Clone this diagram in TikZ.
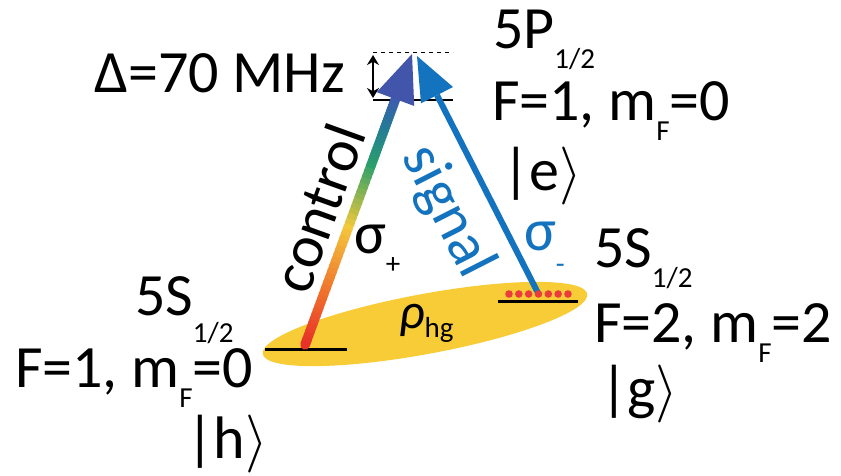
\documentclass[tikz,border=0pt]{standalone}
\usepackage{graphicx}
\usepackage{fontspec}
\setmainfont{Carlito}
\usetikzlibrary{calc,arrows.meta}
\definecolor{cred}{RGB}{230,50,40}
\definecolor{corange}{RGB}{240,112,45}
\definecolor{cyellow}{RGB}{242,200,60}
\definecolor{cgreen}{RGB}{45,160,105}
\definecolor{cteal}{RGB}{35,125,150}
\definecolor{cblue}{RGB}{60,90,175}
\definecolor{headblue}{RGB}{65,85,170}
\definecolor{sigblue}{RGB}{20,115,190}
\definecolor{ellcol}{RGB}{247,204,54}
\definecolor{dotred}{RGB}{235,60,60}
\newcommand\lsub[2][-20pt]{\raisebox{#1}{\fontsize{29}{31}\selectfont #2}}
\newcommand\rket{\scalebox{5.8}{\fontsize{10}{12}\selectfont$\rangle$}}
\tikzset{
  lbl/.style={font=\fontsize{60}{64}\selectfont, inner sep=0pt, outer sep=0pt},
  lvl/.style={line width=3pt, black},
  gseg/.style={line width=9.5pt},
}
\begin{document}
\begin{tikzpicture}[x=1pt,y=-1pt]
\fill[white] (0,0) rectangle (841,475);
\useasboundingbox (0,0) rectangle (841,475);

% coherence ellipse
\fill[ellcol, rotate around={10.5:(425,324)}] (425,324) ellipse [x radius=165pt, y radius=30pt];

% levels
\coordinate (hL) at (265,349); \coordinate (hR) at (347,349);
\coordinate (gL) at (498,301); \coordinate (gR) at (578,301);
\coordinate (eL) at (373,100); \coordinate (eR) at (453,100);
\coordinate (dL) at (373,52.5); \coordinate (dR) at (453,52.5);
\draw[lvl] (hL) -- (hR);
\draw[lvl] (gL) -- (gR);
\draw[line width=2.5pt] (eL) -- (eR);
\draw[line width=1.3pt, dash pattern=on 4pt off 4pt] (dL) -- (dR);

% detuning arrow
\coordinate (da) at (373,55); \coordinate (db) at (373,98);
\draw[line width=1.8pt, {Stealth[length=10pt,width=12pt]}-{Stealth[length=10pt,width=12pt]}] (da) -- (db);

% control arrow (gradient)
\coordinate (cbot) at (305,345);
\coordinate (ctip) at (412,54);
\coordinate (cbase) at ($(ctip)!48pt!(cbot)$);
\draw[gseg, cred, line cap=round] (cbot) -- ($(cbot)!0.02!(cbase)$);
\foreach \ta/\tb/\ca/\cb in {0/0.2/cred/corange, 0.2/0.47/corange/cyellow, 0.47/0.72/cyellow/cgreen, 0.72/0.87/cgreen/cteal, 0.87/1.0/cteal/cblue}{
  \foreach \k in {0,...,11}{
    \pgfmathtruncatemacro\pct{\k*100/12}
    \draw[gseg, color=\cb!\pct!\ca] ($(cbot)!{\ta+(\tb-\ta)*\k/12}!(cbase)$) -- ($(cbot)!{\ta+(\tb-\ta)*(\k+1.6)/12}!(cbase)$);
  }
}
\fill[headblue] (ctip) -- ($(cbase)!20pt!90:(ctip)$) -- ($(cbase)!20pt!-90:(ctip)$) -- cycle;

% signal arrow
\coordinate (sbot) at (538,293);
\coordinate (stip) at (417,56);
\coordinate (sbase) at ($(stip)!44pt!(sbot)$);
\draw[sigblue, line width=6pt] (sbot) -- (sbase);
\fill[sigblue] (stip) -- ($(sbase)!18pt!90:(stip)$) -- ($(sbase)!18pt!-90:(stip)$) -- cycle;

% atoms in g
\foreach \i in {0,...,6}{
  \fill[dotred] ({509+\i*9.83},294) circle (3.8pt);
}

% labels
\node[lbl, anchor=base east] (delta) at (345,92) {Δ=70 MHz};
\node[lbl, anchor=base west] (eP) at (493,48) {5P\lsub{1/2}};
\node[lbl, anchor=base west] (eF) at (492,120) {F=1, m\lsub{F}=0};
\node[lbl, anchor=base west] (eket) at (502,190) {|e\rket};

\node[lbl, anchor=base west] (hP) at (135,315) {5S\lsub[-27pt]{1/2}};
\node[lbl, anchor=base west] (hF) at (15,387) {F=1, m\lsub{F}=0};
\node[lbl, anchor=base west] (hket) at (186,458) {|h\rket};

\node[lbl, anchor=base west] (gP) at (594,267) {5S\lsub{1/2}};
\node[lbl, anchor=base west] (gF) at (594,342) {F=2, m\lsub{F}=2};
\node[lbl, anchor=base west] (gket) at (600,408) {|g\rket};

\node[lbl, rotate=70.2] (ctl) at (318,208) {control};
\node[lbl, rotate=-63, text=sigblue] (sig) at (447,212) {signal};
\node[lbl, anchor=base west] (sigp) at (354,253) {σ\lsub{+}};
\node[lbl, anchor=base west, text=sigblue] (sigm) at (524,250) {σ\lsub[-23pt]{-}};
\node[anchor=base west, inner sep=0pt] (rho) at (399,328) {\fontsize{50}{52}\selectfont\itshape ρ\lsub[-9pt]{\upshape hg}};
\end{tikzpicture}
\end{document}
